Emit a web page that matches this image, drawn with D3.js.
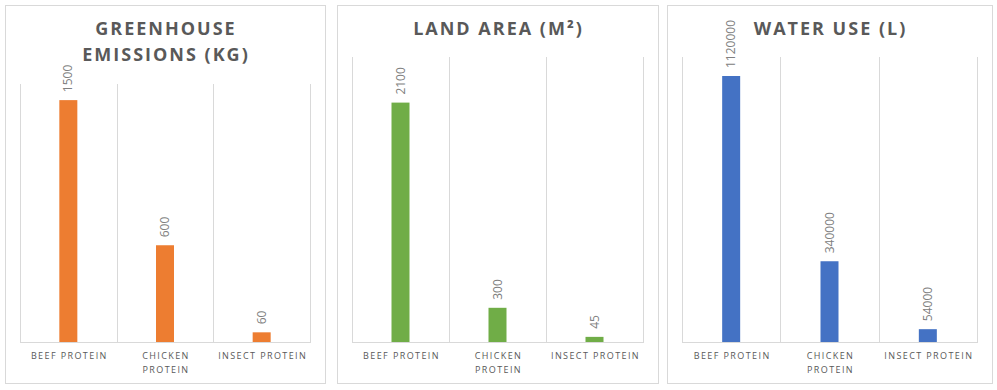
<!DOCTYPE html>
<html>
<head>
<meta charset="utf-8">
<script src="https://cdn.jsdelivr.net/npm/d3@7"></script>
<style>
  body { margin: 0; background: #fff; }
  svg { display: block; font-family: "Open Sans", sans-serif; }
</style>
</head>
<body>
<div id="container"></div>
<script>
// categories shared by all three panels
var categories = ["Beef protein", "Chicken protein", "Insect protein"];

// one series per panel
var emissions = [1500, 600, 60];
var landArea = [2100, 300, 45];
var waterUse = [1120000, 340000, 54000];

// titles (one or two lines)
var titles = [["Greenhouse", "Emissions (kg)"], ["Land Area (m²)"], ["Water Use (L)"]];
var yMax = [1600, 2500, 1200000];
var colors = ["#ED7D31", "#70AD47", "#4472C4"];

var width = 997;
var height = 390;

var svg = d3.select("#container")
    .append("svg")
    .attr("width", width)
    .attr("height", height);

// panel boxes
var panels = [
    { x0: 5, x1: 325, top: 84 },
    { x0: 337, x1: 658, top: 57 },
    { x0: 667, x1: 992, top: 57 }
];
var series = [emissions, landArea, waterUse];
var baseline = 342;

panels.forEach(function (p, i) {
    var g = svg.append("g");

    g.append("rect")
        .attr("x", p.x0 + 0.5)
        .attr("y", 5.5)
        .attr("width", p.x1 - p.x0)
        .attr("height", 378)
        .attr("fill", "#fff")
        .attr("stroke", "#d9d9d9");

    // title
    var title = g.append("text")
        .attr("text-anchor", "middle")
        .attr("fill", "#595959")
        .attr("font-size", "18px")
        .attr("font-weight", "bold")
        .attr("letter-spacing", "2px");
    titles[i].forEach(function (line, k) {
        title.append("tspan")
            .attr("x", (p.x0 + p.x1) / 2 + 1)
            .attr("y", 35 + k * 26)
            .text(line.toUpperCase());
    });

    var x = d3.scaleBand()
        .domain(categories)
        .range([p.x0 + 15, p.x1 - 15]);

    var y = d3.scaleLinear()
        .domain([0, yMax[i]])
        .range([baseline, p.top]);

    // vertical gridlines at category edges
    var edges = categories.map(function (c) { return x(c); });
    edges.push(x.range()[1]);
    g.selectAll(".grid")
        .data(edges)
        .enter()
        .append("line")
        .attr("x1", function (d) { return Math.round(d) + 0.5; })
        .attr("x2", function (d) { return Math.round(d) + 0.5; })
        .attr("y1", p.top)
        .attr("y2", baseline)
        .attr("stroke", "#d9d9d9");

    // baseline axis
    g.append("line")
        .attr("x1", x.range()[0])
        .attr("x2", x.range()[1] + 1)
        .attr("y1", baseline + 0.5)
        .attr("y2", baseline + 0.5)
        .attr("stroke", "#d9d9d9");

    var barW = 18;
    g.selectAll(".bar")
        .data(series[i])
        .enter()
        .append("rect")
        .attr("x", function (d, k) { return x(categories[k]) + x.bandwidth() / 2 - barW / 2; })
        .attr("y", function (d) { return y(d); })
        .attr("width", barW)
        .attr("height", function (d) { return baseline - y(d); })
        .attr("fill", colors[i]);

    // rotated value labels
    g.selectAll(".val")
        .data(series[i])
        .enter()
        .append("text")
        .attr("transform", function (d, k) {
            var cx = x(categories[k]) + x.bandwidth() / 2;
            return "translate(" + (cx + 4) + "," + (y(d) - 8) + ") rotate(-90)";
        })
        .attr("fill", "#808080")
        .attr("font-size", "12px")
        .text(function (d) { return d; });

    // category labels
    categories.forEach(function (c, k) {
        var cx = x(c) + x.bandwidth() / 2;
        var words = c.toUpperCase().split(" ");
        var lines = (k == 1) ? words : [words.join(" ")];
        var t = g.append("text")
            .attr("text-anchor", "middle")
            .attr("fill", "#595959")
            .attr("font-size", "9px")
            .attr("letter-spacing", "1.4px");
        lines.forEach(function (line, j) {
            t.append("tspan")
                .attr("x", cx + 1)
                .attr("y", 359 + j * 14)
                .text(line);
        });
    });
});
</script>
</body>
</html>
